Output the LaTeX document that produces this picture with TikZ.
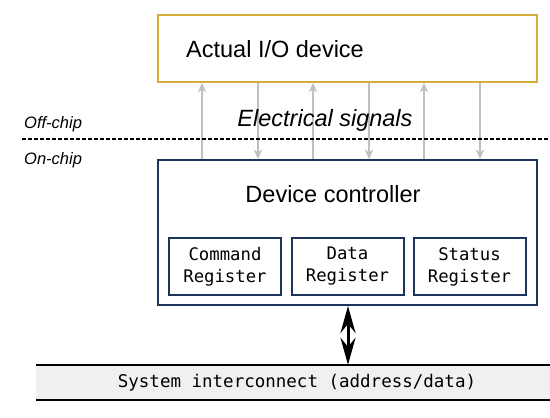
\documentclass[tikz,border=0pt]{standalone}
\usepackage{fontspec}
\setmainfont{Liberation Sans}
\newfontfamily\monofont{DejaVu Sans Mono}
\usetikzlibrary{arrows.meta}
\definecolor{gold}{RGB}{214,172,58}
\definecolor{navy}{RGB}{28,52,92}
\definecolor{sig}{RGB}{192,192,192}
\definecolor{busfill}{RGB}{240,240,240}
\begin{document}
\begin{tikzpicture}[x=1pt,y=-1pt,
  bigtext/.style={font=\fontsize{23.5}{28}\selectfont, inner sep=0pt},
  chiptext/.style={font=\fontsize{16.5}{20}\selectfont\itshape, inner sep=0pt, anchor=base west},
  regbox/.style={draw=navy, line width=2pt, minimum width=112pt, minimum height=57pt, inner sep=0pt, align=center,
     font=\monofont\fontsize{17.3}{22}\selectfont},
  sigarrow/.style={draw=sig, line width=1.7pt, -{Stealth[length=9.5pt,width=8.5pt,inset=3pt]}},
  busarrow/.style={line width=3pt, {Stealth[length=27pt,width=15pt,inset=9pt]}-{Stealth[length=27pt,width=15pt,inset=9pt]}}
]
\useasboundingbox (0,0) rectangle (550,418);
% Actual I/O device
\node[draw=gold, line width=2pt, minimum width=379pt, minimum height=67pt, inner sep=0pt] (io) at (347.5,48.5) {};
\node[bigtext, anchor=base west] (iolabel) at (186,57) {Actual I/O device};
% Device controller
\node[draw=navy, line width=2pt, minimum width=379pt, minimum height=145pt, inner sep=0pt] (dc) at (347.5,232.5) {};
\node[bigtext, anchor=base] (dclabel) at (333,202) {Device controller};
% Registers
\node[regbox] (cmd) at (225,266.5) {Command\\Register};
\node[regbox] (data) at (347.5,266.5) {Data\\Register};
\node[regbox] (status) at (469.5,266.5) {Status\\Register};
% signals
\draw[sigarrow] (dc.north -| 202,0) -- (io.south -| 202,0);
\draw[sigarrow] (io.south -| 258,0) -- (dc.north -| 258,0);
\draw[sigarrow] (dc.north -| 313,0) -- (io.south -| 313,0);
\draw[sigarrow] (io.south -| 369,0) -- (dc.north -| 369,0);
\draw[sigarrow] (dc.north -| 424,0) -- (io.south -| 424,0);
\draw[sigarrow] (io.south -| 480,0) -- (dc.north -| 480,0);
% Off-chip / on-chip
\coordinate (dl) at (22,139);
\coordinate (dr) at (550,139);
\draw[line width=1.5pt, dash pattern=on 4pt off 2pt] (dl) -- (dr);
\node[chiptext] (off) at (24,128) {Off-chip};
\node[chiptext] (on) at (24,164) {On-chip};
\node[bigtext, font=\fontsize{23.5}{28}\selectfont\itshape, anchor=base] (elec) at (325,126) {Electrical signals};
% bus
\node[fill=busfill, minimum width=514pt, minimum height=35pt, inner sep=0pt,
      font=\monofont\fontsize{17.5}{21}\selectfont] (bus) at (293,382.5) {\hspace*{8pt}System interconnect (address/data)};
\draw[line width=2pt] (bus.north west) -- (bus.north east);
\draw[line width=2pt] (bus.south west) -- (bus.south east);
\draw[busarrow] (dc.south -| 348,0) -- (bus.north -| 348,0);
\end{tikzpicture}
\end{document}
